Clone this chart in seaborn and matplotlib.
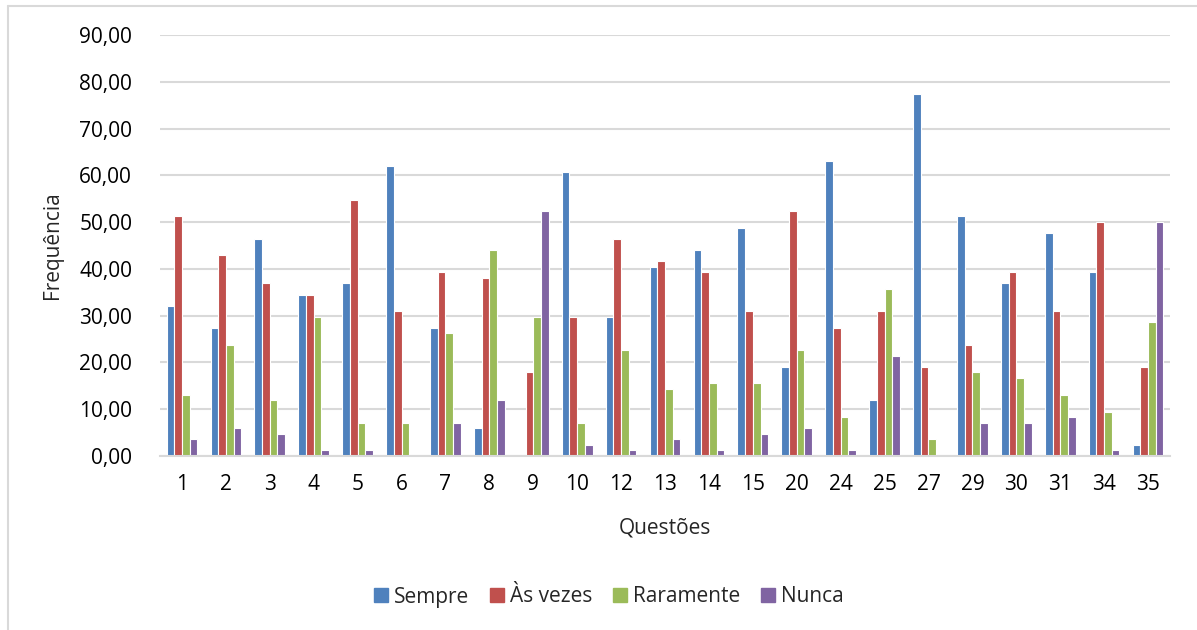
import matplotlib
matplotlib.use("Agg")
import matplotlib.pyplot as plt
import matplotlib.patches as mpatches
from matplotlib.lines import Line2D
from matplotlib.ticker import FuncFormatter, MultipleLocator
import seaborn as sns
import pandas as pd

questoes = ["1", "2", "3", "4", "5", "6", "7", "8", "9", "10", "12", "13",
            "14", "15", "20", "24", "25", "27", "29", "30", "31", "34", "35"]
sempre = [32.1, 27.4, 46.4, 34.5, 36.9, 61.9, 27.4, 6.0, 0.0, 60.7, 29.8, 40.5,
          44.0, 48.8, 19.0, 63.1, 11.9, 77.4, 51.2, 36.9, 47.6, 39.3, 2.4]
as_vezes = [51.2, 42.9, 36.9, 34.5, 54.8, 31.0, 39.3, 38.1, 17.9, 29.8, 46.4, 41.7,
            39.3, 31.0, 52.4, 27.4, 31.0, 19.0, 23.8, 39.3, 31.0, 50.0, 19.0]
raramente = [13.1, 23.8, 11.9, 29.8, 7.1, 7.1, 26.2, 44.0, 29.8, 7.1, 22.6, 14.3,
             15.5, 15.5, 22.6, 8.3, 35.7, 3.6, 17.9, 16.7, 13.1, 9.5, 28.6]
nunca = [3.6, 6.0, 4.8, 1.2, 1.2, 0.0, 7.1, 11.9, 52.4, 2.4, 1.2, 3.6,
         1.2, 4.8, 6.0, 1.2, 21.4, 0.0, 7.1, 7.1, 8.3, 1.2, 50.0]
series_names = ["Sempre", "Às vezes", "Raramente", "Nunca"]
colors = ["#4F81BD", "#C0504D", "#9BBB59", "#8064A2"]

rows = []
for name, vals in zip(series_names, [sempre, as_vezes, raramente, nunca]):
    for q, v in zip(questoes, vals):
        rows.append({"Questão": q, "Frequência": v, "Categoria": name})
df = pd.DataFrame(rows)

sns.set_theme(style="white")
plt.rcParams["font.family"] = ["Open Sans", "DejaVu Sans"]

fig = plt.figure(figsize=(11.97, 6.30), dpi=100)
ax = fig.add_axes([160/1197, 1-456/630, (1170-160)/1197, (456-35)/630])

sns.barplot(data=df, x="Questão", y="Frequência", hue="Categoria",
            order=questoes, hue_order=series_names, palette=colors,
            width=0.7, edgecolor="white", linewidth=0.8, saturation=1,
            errorbar=None, ax=ax, legend=False)

ax.set_ylim(0, 90)
ax.yaxis.set_major_locator(MultipleLocator(10))
ax.yaxis.set_major_formatter(FuncFormatter(lambda v, p: f"{v:.2f}".replace(".", ",")))
ax.grid(axis="y", color="#D9D9D9", linewidth=1.5)
ax.set_axisbelow(True)
for s in ["top", "right", "left"]:
    ax.spines[s].set_visible(False)
ax.spines["bottom"].set_color("#D9D9D9")
ax.spines["bottom"].set_linewidth(1.5)
ax.tick_params(axis="both", length=0, labelsize=15, colors="black")
ax.tick_params(axis="y", pad=20)
ax.tick_params(axis="x", pad=13)
ax.set_xlabel("Questões", fontsize=15, labelpad=16)
ax.set_ylabel("Frequência", fontsize=15, labelpad=12)

handles = [mpatches.Patch(color=c, label=n) for c, n in zip(colors, series_names)]
fig.legend(handles=handles, loc="center", bbox_to_anchor=(609/1197, 1-597/630),
           ncol=4, frameon=False, fontsize=15, handlelength=0.65, handleheight=0.65,
           handletextpad=0.3, columnspacing=1.0)

bx = 8/1197
by = 1 - 6/630
fig.add_artist(Line2D([bx, bx], [0, by], transform=fig.transFigure,
                      color="#D9D9D9", linewidth=1.5))
fig.add_artist(Line2D([bx, 1], [by, by], transform=fig.transFigure,
                      color="#D9D9D9", linewidth=1.5))

fig.savefig("out.png", dpi=100)
